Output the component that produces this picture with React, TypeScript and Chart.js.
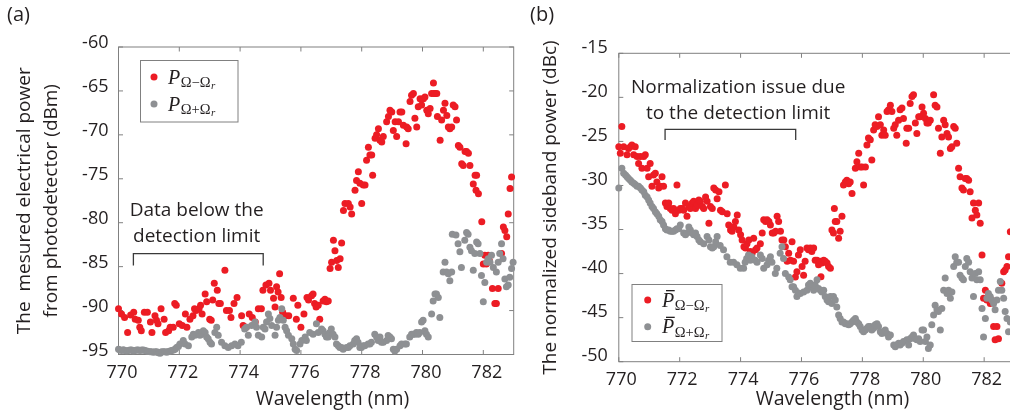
import React, { useEffect, useRef } from "react";
import { Chart, registerables } from "chart.js";

Chart.register(...registerables);

const SANS = '"Open Sans", "Noto Sans", "DejaVu Sans", sans-serif';
const SERIF = '"Liberation Serif", "DejaVu Serif", serif';
const TEXT = "#231f20";
const AXIS = "#808080";
const RED = "#ec1c24";
const GRAY = "#8e9093";

const xTicks = [770, 772, 774, 776, 778, 780, 782];
const yTicksA = [-95, -90, -85, -80, -75, -70, -65, -60];
const yTicksB = [-50, -45, -40, -35, -30, -25, -20, -15];
const xRange = [770, 783];
const yRangeA = [-95, -60];
const yRangeB = [-50, -15];

const yTitleA = ["The  mesured electrical power", "from photodetector (dBm)"];
const yTitleB = "The normalized sideband power (dBc)";
const xTitle = "Wavelength (nm)";
const noteA = ["Data below the", "detection limit"];
const noteB = ["Normalization issue due", "to the detection limit"];

type Pt = [number, number];

// (a) P_{Ω-Ωr} : [wavelength nm, power dBm]
const redA: Pt[] = [
  [770.0, -89.8], [770.1, -90.4], [770.2, -90.8], [770.3, -92.5], [770.4, -90.5], [770.5, -90.2], [770.55, -91.0],
  [770.65, -91.1], [770.7, -91.9], [770.75, -92.3], [770.85, -90.2], [770.95, -90.2], [771.05, -91.3], [771.1, -92.5],
  [771.2, -90.6], [771.25, -91.1], [771.3, -91.5], [771.4, -89.8], [771.5, -91.0], [771.55, -92.5], [771.65, -92.3],
  [771.7, -91.9], [771.8, -91.9], [771.85, -89.2], [771.9, -89.4], [772.0, -91.5], [772.1, -91.7], [772.2, -90.4],
  [772.25, -91.9], [772.35, -91.0], [772.45, -90.6], [772.5, -89.8], [772.55, -90.0], [772.65, -89.8], [772.7, -89.4],
  [772.75, -90.4], [772.85, -88.1], [772.9, -89.0], [773.0, -91.0], [773.05, -91.1], [773.1, -88.8], [773.15, -86.9],
  [773.25, -87.7], [773.3, -89.2], [773.35, -89.2], [773.5, -85.4], [773.55, -90.0], [773.65, -90.0], [773.7, -90.8],
  [773.8, -89.2], [773.9, -88.5], [774.05, -90.6], [774.1, -91.7], [774.2, -91.9], [774.3, -90.4], [774.4, -90.8],
  [774.5, -91.3], [774.6, -89.8], [774.7, -89.8], [774.75, -87.7], [774.85, -87.1], [774.95, -86.9], [775.0, -87.7],
  [775.1, -88.6], [775.15, -89.6], [775.2, -87.3], [775.25, -87.9], [775.3, -85.8], [775.35, -88.5], [775.4, -90.2],
  [775.5, -90.6], [775.6, -90.6], [775.75, -88.6], [775.85, -91.0], [775.9, -89.4], [776.0, -91.9], [776.1, -90.4],
  [776.2, -88.5], [776.25, -88.8], [776.35, -88.3], [776.4, -88.1], [776.45, -89.2], [776.5, -89.6], [776.57, -89.4],
  [776.62, -91.0], [776.73, -88.9], [776.79, -88.7], [776.84, -89.0], [776.9, -88.9], [776.96, -85.2], [777.01, -84.5],
  [777.07, -82.0], [777.12, -83.2], [777.18, -84.3], [777.23, -85.1], [777.29, -84.1], [777.34, -82.3], [777.4, -78.6],
  [777.45, -77.8], [777.56, -77.8], [777.62, -78.2], [777.67, -79.0], [777.78, -76.3], [777.83, -75.2], [777.89, -74.2],
  [777.94, -75.5], [778.0, -77.8], [778.05, -75.7], [778.11, -75.7], [778.16, -72.9], [778.22, -71.4], [778.27, -72.3],
  [778.33, -72.3], [778.36, -74.6], [778.44, -70.4], [778.49, -70.0], [778.55, -69.3], [778.6, -70.6], [778.66, -70.8],
  [778.71, -70.2], [778.82, -68.5], [778.88, -67.9], [778.93, -67.2], [778.99, -67.4], [779.04, -69.5], [779.1, -68.5],
  [779.15, -70.2], [779.21, -68.5], [779.26, -67.4], [779.32, -67.4], [779.37, -68.9], [779.46, -71.0], [779.48, -69.1],
  [779.53, -69.3], [779.59, -66.2], [779.64, -65.5], [779.7, -65.3], [779.75, -68.1], [779.81, -69.1], [779.86, -66.8],
  [779.92, -65.9], [779.97, -66.6], [780.03, -65.9], [780.08, -65.7], [780.14, -67.2], [780.19, -67.6], [780.25, -67.0],
  [780.3, -65.3], [780.36, -64.1], [780.38, -65.3], [780.41, -65.3], [780.47, -65.3], [780.49, -67.9], [780.58, -70.6],
  [780.63, -68.3], [780.69, -67.2], [780.74, -66.4], [780.8, -67.8], [780.85, -69.1], [780.9, -69.3], [780.96, -69.1],
  [781.01, -66.6], [781.07, -66.8], [781.12, -68.3], [781.18, -71.2], [781.23, -71.4], [781.29, -73.3], [781.34, -73.5],
  [781.4, -71.9], [781.45, -71.9], [781.51, -72.1], [781.56, -73.5], [781.67, -75.6], [781.73, -74.6], [781.76, -76.3],
  [781.78, -74.6], [781.84, -76.7], [781.95, -79.9], [782.0, -84.7], [782.05, -83.7], [782.1, -84.7], [782.16, -83.7],
  [782.2, -84.3], [782.3, -87.5], [782.38, -89.2], [782.43, -89.2], [782.49, -87.5], [782.6, -83.5], [782.66, -80.5],
  [782.71, -80.9], [782.77, -81.6], [782.82, -79.0], [782.88, -76.1], [782.93, -74.8],
];

// (a) P_{Ω+Ωr}
const grayA: Pt[] = [
  [770.0, -94.4], [770.05, -94.5], [770.1, -94.55], [770.16, -94.45], [770.21, -94.55], [770.27, -94.6], [770.32, -94.55],
  [770.38, -94.5], [770.43, -94.5], [770.49, -94.6], [770.54, -94.55], [770.6, -94.5], [770.65, -94.5], [770.71, -94.55],
  [770.76, -94.5], [770.82, -94.5], [770.87, -94.55], [770.93, -94.6], [770.98, -94.65], [771.04, -94.7], [771.09, -94.7],
  [771.15, -94.75], [771.2, -94.7], [771.26, -94.7], [771.31, -94.8], [771.37, -94.85], [771.42, -94.7], [771.48, -94.7],
  [771.53, -94.7], [771.59, -94.75], [771.64, -94.65], [771.7, -94.6], [771.75, -94.55], [771.81, -94.5], [771.86, -94.4],
  [771.91, -94.2], [771.97, -94.1], [772.02, -93.8], [772.13, -93.4], [772.19, -93.8], [772.3, -94.0], [772.41, -93.0],
  [772.46, -92.7], [772.52, -92.8], [772.63, -92.5], [772.68, -92.8], [772.74, -92.7], [772.79, -92.3], [772.85, -92.5],
  [772.9, -93.0], [772.95, -93.2], [773.01, -93.6], [773.06, -93.8], [773.17, -92.5], [773.23, -91.9], [773.28, -92.8],
  [773.39, -93.6], [773.5, -94.0], [773.61, -94.2], [773.72, -94.0], [773.83, -93.8], [773.93, -94.0], [774.04, -93.6],
  [774.15, -92.1], [774.21, -91.9], [774.27, -92.8], [774.38, -91.7], [774.49, -91.3], [774.54, -91.9], [774.6, -92.8],
  [774.71, -93.0], [774.76, -91.9], [774.82, -92.1], [774.87, -91.3], [774.93, -90.4], [774.98, -90.9], [775.04, -91.7],
  [775.15, -92.8], [775.2, -91.9], [775.26, -91.1], [775.31, -90.8], [775.37, -89.8], [775.42, -91.1], [775.48, -91.9],
  [775.53, -92.3], [775.59, -92.8], [775.7, -93.2], [775.75, -93.8], [775.81, -94.4], [775.86, -94.55], [775.97, -93.8],
  [776.03, -93.4], [776.14, -93.0], [776.18, -93.4], [776.29, -92.5], [776.4, -92.7], [776.51, -91.5], [776.57, -92.5],
  [776.68, -92.1], [776.73, -92.3], [776.79, -92.7], [776.84, -93.0], [776.9, -93.0], [776.95, -92.5], [777.0, -92.1],
  [777.06, -92.7], [777.12, -93.0], [777.17, -93.8], [777.23, -94.0], [777.28, -94.2], [777.34, -94.2], [777.39, -94.4],
  [777.5, -94.2], [777.56, -94.2], [777.61, -94.0], [777.72, -93.8], [777.77, -93.4], [777.83, -93.2], [777.88, -93.6],
  [777.94, -94.2], [777.99, -94.2], [778.05, -94.0], [778.1, -94.0], [778.21, -93.8], [778.27, -93.8], [778.32, -93.6],
  [778.43, -92.7], [778.49, -93.0], [778.54, -93.4], [778.6, -93.0], [778.65, -93.6], [778.71, -93.6], [778.82, -93.4],
  [778.87, -92.85], [778.93, -93.0], [778.98, -93.2], [779.04, -94.4], [779.09, -94.6], [779.15, -94.4], [779.26, -94.0],
  [779.31, -93.8], [779.42, -93.8], [779.47, -93.8], [779.58, -93.0], [779.64, -92.7], [779.69, -92.7], [779.75, -92.7],
  [779.8, -92.5], [779.86, -92.7], [779.91, -92.5], [779.97, -91.3], [780.02, -91.1], [780.08, -92.3], [780.13, -92.7],
  [780.19, -93.0], [780.3, -90.4], [780.35, -88.9], [780.41, -88.1], [780.46, -88.1], [780.52, -88.5], [780.57, -90.8],
  [780.68, -85.6], [780.74, -84.5], [780.79, -85.6], [780.85, -85.8], [780.9, -86.6], [780.96, -85.6], [780.98, -81.3],
  [781.1, -81.4], [781.17, -82.4], [781.23, -83.3], [781.28, -85.1], [781.39, -82.0], [781.45, -81.1], [781.5, -81.3],
  [781.56, -82.8], [781.61, -83.2], [781.67, -85.4], [781.72, -83.5], [781.78, -82.2], [781.83, -82.4], [781.89, -83.5],
  [781.94, -86.0], [782.0, -89.0], [782.05, -86.8], [782.11, -84.5], [782.16, -84.1], [782.22, -84.5], [782.27, -83.7],
  [782.33, -85.1], [782.43, -85.6], [782.49, -84.5], [782.54, -83.5], [782.6, -82.4], [782.65, -84.1], [782.71, -86.4],
  [782.76, -87.3], [782.82, -87.1], [782.87, -86.2], [782.93, -85.2], [782.98, -84.5],
];

// (b) normalized P̄_{Ω-Ωr} : [wavelength nm, dBc]
const redB: Pt[] = [
  [770.0, -25.6], [770.05, -26.35], [770.1, -23.3], [770.16, -25.6], [770.27, -26.5], [770.32, -25.8], [770.38, -25.6],
  [770.43, -25.4], [770.49, -26.5], [770.54, -25.6], [770.6, -26.7], [770.65, -27.5], [770.71, -26.7], [770.76, -28.05],
  [770.82, -26.7], [770.87, -26.5], [770.93, -28.05], [770.98, -29.0], [771.03, -27.5], [771.09, -30.1], [771.14, -28.8],
  [771.2, -28.6], [771.25, -29.6], [771.31, -30.3], [771.36, -30.1], [771.42, -29.0], [771.47, -30.1], [771.53, -32.0],
  [771.58, -32.4], [771.64, -32.0], [771.69, -32.6], [771.75, -32.8], [771.8, -32.6], [771.86, -33.2], [771.91, -29.95],
  [771.97, -32.8], [772.02, -32.6], [772.08, -32.6], [772.13, -32.8], [772.19, -32.0], [772.24, -33.5], [772.3, -32.4],
  [772.35, -32.6], [772.41, -32.0], [772.46, -31.8], [772.52, -32.6], [772.57, -32.2], [772.63, -31.65], [772.68, -31.8],
  [772.74, -32.4], [772.79, -32.6], [772.85, -31.3], [772.9, -31.8], [772.96, -34.3], [773.01, -32.4], [773.07, -32.6],
  [773.12, -30.3], [773.18, -30.5], [773.23, -31.5], [773.29, -30.7], [773.34, -32.8], [773.4, -32.97], [773.5, -29.95],
  [773.56, -33.2], [773.61, -34.5], [773.67, -35.05], [773.72, -35.2], [773.78, -34.7], [773.83, -34.1], [773.89, -33.35],
  [773.94, -35.05], [774.0, -35.6], [774.05, -36.2], [774.11, -36.95], [774.16, -37.1], [774.21, -36.6], [774.27, -36.2],
  [774.32, -37.5], [774.38, -37.7], [774.43, -36.0], [774.49, -37.3], [774.54, -37.1], [774.65, -36.6], [774.71, -35.4],
  [774.76, -33.9], [774.82, -34.1], [774.87, -33.9], [774.93, -34.1], [774.98, -34.5], [775.04, -35.4], [775.09, -35.4],
  [775.15, -35.2], [775.2, -33.5], [775.25, -34.1], [775.31, -35.2], [775.36, -36.2], [775.42, -36.2], [775.47, -36.95],
  [775.53, -38.6], [775.58, -37.7], [775.64, -38.5], [775.69, -36.4], [775.74, -38.6], [775.8, -40.4], [775.85, -39.8],
  [775.9, -37.9], [775.96, -37.3], [776.02, -39.2], [776.07, -40.2], [776.12, -38.6], [776.18, -37.1], [776.23, -37.3],
  [776.29, -37.1], [776.34, -37.5], [776.4, -37.1], [776.45, -38.5], [776.51, -38.5], [776.56, -39.0], [776.62, -38.6],
  [776.64, -40.35], [776.67, -38.8], [776.73, -38.5], [776.78, -38.6], [776.84, -38.8], [776.89, -39.2], [776.95, -39.4],
  [777.0, -35.05], [777.05, -35.4], [777.08, -32.6], [777.11, -34.1], [777.16, -34.1], [777.22, -36.0], [777.27, -35.2],
  [777.33, -33.5], [777.38, -29.95], [777.44, -29.6], [777.49, -29.4], [777.55, -29.8], [777.6, -29.6], [777.66, -30.9],
  [777.77, -28.05], [777.82, -27.3], [777.88, -26.35], [777.93, -27.9], [777.99, -27.9], [778.04, -29.95], [778.1, -27.9],
  [778.15, -25.4], [778.2, -24.6], [778.26, -24.8], [778.31, -27.1], [778.37, -23.7], [778.42, -23.1], [778.48, -23.3],
  [778.53, -22.2], [778.59, -23.1], [778.64, -24.3], [778.7, -23.7], [778.75, -24.3], [778.81, -21.6], [778.86, -21.4],
  [778.92, -20.9], [778.97, -21.6], [779.03, -23.5], [779.08, -23.1], [779.13, -24.3], [779.19, -22.6], [779.24, -21.4],
  [779.3, -21.2], [779.35, -22.4], [779.44, -25.2], [779.46, -23.5], [779.52, -23.5], [779.57, -20.7], [779.63, -19.9],
  [779.68, -19.7], [779.74, -22.9], [779.79, -24.1], [779.85, -22.2], [779.9, -22.2], [779.96, -21.1], [780.01, -21.8],
  [780.07, -22.4], [780.12, -22.9], [780.17, -22.9], [780.23, -22.6], [780.34, -19.7], [780.39, -20.9], [780.45, -21.1],
  [780.5, -23.5], [780.56, -26.35], [780.61, -24.5], [780.67, -22.6], [780.72, -23.1], [780.78, -24.1], [780.83, -24.5],
  [780.89, -25.8], [780.94, -25.6], [781.0, -23.3], [781.05, -23.5], [781.1, -25.2], [781.16, -28.05], [781.21, -29.0],
  [781.27, -30.3], [781.32, -30.5], [781.38, -29.2], [781.43, -29.2], [781.49, -29.4], [781.54, -30.7], [781.6, -33.7],
  [781.65, -32.0], [781.71, -32.8], [781.76, -33.35], [781.82, -32.0], [781.87, -34.3], [781.93, -37.9], [781.98, -42.8],
  [782.04, -41.9], [782.09, -43.0], [782.14, -42.6], [782.2, -43.4], [782.25, -43.0], [782.31, -46.0], [782.36, -47.5],
  [782.42, -46.0], [782.47, -47.4], [782.58, -41.1], [782.64, -39.8], [782.69, -39.6], [782.75, -39.2], [782.8, -38.1],
  [782.86, -35.25],
];

// (b) normalized P̄_{Ω+Ωr}
const grayB: Pt[] = [
  [770.0, -30.3], [770.1, -28.05], [770.16, -28.6], [770.22, -28.8], [770.27, -29.0], [770.32, -29.2], [770.38, -29.4],
  [770.43, -29.6], [770.49, -29.75], [770.54, -29.9], [770.6, -30.1], [770.65, -30.1], [770.71, -30.3], [770.76, -30.5],
  [770.82, -30.7], [770.87, -31.1], [770.93, -31.3], [770.98, -31.65], [771.03, -32.0], [771.09, -32.4], [771.14, -32.6],
  [771.2, -32.97], [771.25, -33.2], [771.31, -33.5], [771.36, -33.9], [771.42, -34.1], [771.47, -34.5], [771.53, -34.9],
  [771.58, -35.05], [771.64, -35.05], [771.69, -35.2], [771.75, -35.2], [771.8, -35.2], [771.86, -35.05], [771.91, -34.9],
  [771.97, -34.9], [772.02, -34.5], [772.13, -35.4], [772.19, -35.6], [772.24, -35.4], [772.3, -34.7], [772.35, -35.05],
  [772.41, -35.4], [772.46, -35.6], [772.52, -35.4], [772.57, -35.8], [772.63, -36.2], [772.68, -36.4], [772.79, -36.6],
  [772.9, -35.8], [772.96, -36.2], [773.01, -36.95], [773.07, -37.1], [773.12, -36.95], [773.18, -36.4], [773.23, -35.8],
  [773.33, -36.8], [773.44, -37.3], [773.55, -38.1], [773.66, -38.7], [773.77, -38.7], [773.88, -39.0], [773.99, -39.4],
  [774.1, -39.4], [774.15, -38.7], [774.2, -38.3], [774.26, -37.9], [774.32, -38.5], [774.37, -38.1], [774.48, -38.5],
  [774.54, -38.7], [774.65, -37.9], [774.71, -38.3], [774.76, -39.4], [774.87, -39.0], [774.92, -38.5], [774.98, -38.1],
  [775.03, -38.7], [775.14, -40.0], [775.19, -39.4], [775.3, -37.7], [775.36, -36.95], [775.41, -38.3], [775.47, -40.0],
  [775.58, -40.4], [775.63, -40.7], [775.69, -41.5], [775.74, -41.5], [775.8, -41.9], [775.85, -42.6], [775.9, -42.2],
  [775.96, -42.25], [776.07, -42.1], [776.18, -41.9], [776.23, -41.3], [776.29, -41.1], [776.34, -41.5], [776.4, -41.9],
  [776.45, -41.3], [776.51, -40.7], [776.56, -41.7], [776.62, -41.9], [776.67, -42.1], [776.73, -41.9], [776.78, -42.6],
  [776.84, -43.0], [776.89, -43.2], [776.95, -42.6], [777.0, -43.4], [777.05, -42.6], [777.11, -43.0], [777.16, -43.8],
  [777.22, -44.7], [777.27, -45.1], [777.33, -45.5], [777.38, -45.5], [777.44, -45.7], [777.49, -45.7], [777.55, -45.8],
  [777.6, -45.7], [777.66, -45.5], [777.71, -45.3], [777.77, -45.1], [777.82, -45.5], [777.88, -45.7], [777.93, -46.0],
  [777.99, -46.4], [778.04, -46.6], [778.1, -46.4], [778.15, -46.2], [778.2, -46.0], [778.26, -46.0], [778.31, -46.4],
  [778.37, -46.2], [778.42, -45.8], [778.48, -45.7], [778.53, -46.0], [778.59, -46.6], [778.64, -46.8], [778.7, -46.6],
  [778.75, -46.4], [778.81, -46.8], [778.86, -47.2], [778.92, -46.98], [779.03, -48.1], [779.08, -48.3], [779.13, -48.1],
  [779.19, -47.9], [779.24, -48.1], [779.3, -47.9], [779.35, -47.7], [779.46, -47.5], [779.52, -48.1], [779.57, -47.4],
  [779.63, -47.2], [779.68, -46.98], [779.74, -47.4], [779.79, -47.5], [779.85, -47.4], [779.9, -47.7], [779.96, -46.4],
  [780.01, -46.4], [780.07, -47.7], [780.12, -47.2], [780.17, -48.5], [780.23, -48.1], [780.28, -45.8], [780.34, -44.7],
  [780.39, -43.6], [780.45, -44.1], [780.5, -44.3], [780.56, -46.4], [780.61, -43.95], [780.67, -41.9], [780.72, -40.5],
  [780.78, -42.25], [780.83, -41.9], [780.89, -42.8], [780.94, -42.1], [781.0, -39.2], [781.05, -38.1], [781.1, -38.7],
  [781.16, -38.7], [781.21, -40.2], [781.27, -40.5], [781.32, -40.7], [781.38, -39.2], [781.43, -38.3], [781.49, -38.7],
  [781.54, -39.8], [781.6, -40.5], [781.65, -42.6], [781.71, -40.0], [781.76, -40.7], [781.82, -39.8], [781.87, -40.7],
  [781.93, -43.95], [781.98, -47.2], [782.04, -45.1], [782.09, -42.8], [782.14, -42.25], [782.2, -42.6], [782.25, -43.0],
  [782.31, -43.4], [782.36, -44.1], [782.42, -43.0], [782.47, -41.9], [782.53, -40.9], [782.58, -41.9], [782.64, -42.8],
  [782.69, -44.3], [782.75, -45.1], [782.8, -46.6], [782.86, -45.5],
];

type PanelCfg = {
  left: number;
  width: number;
  height: number;
  area: { left: number; right: number; top: number; bottom: number };
  yRange: number[];
  yTicks: number[];
  red: Pt[];
  gray: Pt[];
  yTitle: string | string[];
  yTitleLH: number;
  yTitlePad: number;
  yLabelPad: number;
  yLabelOffset: number;
  xLabelOffset: number;
  tag: string;
  tagX: number;
  xTitleX: number;
  note: string[];
  noteX: number;
  noteY: number[];
  bracketX: number[];
  bracketY: number[];
  legend: { box: number[]; dotX: number; rows: number[]; textX: number; bar: boolean };
};

const panelA: PanelCfg = {
  left: 0,
  width: 525,
  height: 416,
  area: { left: 118.5, right: 513.7, top: 47, bottom: 354.5 },
  yRange: yRangeA,
  yTicks: yTicksA,
  red: redA,
  gray: grayA,
  yTitle: yTitleA,
  yTitleLH: 27 / 19,
  yTitlePad: 11.5,
  yLabelPad: 10,
  yLabelOffset: -4,
  xLabelOffset: 3.5,
  tag: "(a)",
  tagX: 7,
  xTitleX: 332.5,
  note: noteA,
  noteX: 772.57,
  noteY: [-79.27, -82.2],
  bracketX: [770.49, 774.76],
  bracketY: [-83.52, -84.86],
  legend: { box: [140.5, 60.5, 97.5, 61.5], dotX: 154, rows: [77, 104], textX: 168, bar: false },
};

const panelB: PanelCfg = {
  left: 525,
  width: 495,
  height: 416,
  area: { left: 93.8, right: 489.6, top: 53.3, bottom: 361.7 },
  yRange: yRangeB,
  yTicks: yTicksB,
  red: redB,
  gray: grayB,
  yTitle: yTitleB,
  yTitleLH: 1.2,
  yTitlePad: 14.5,
  yLabelPad: 11,
  yLabelOffset: -5.5,
  xLabelOffset: 2.5,
  tag: "(b)",
  tagX: 530,
  xTitleX: 832.5,
  note: noteB,
  noteX: 773.92,
  noteY: [-19.54, -22.46],
  bracketX: [771.52, 775.81],
  bracketY: [-23.63, -24.84],
  legend: { box: [632, 284.5, 90, 57], dotX: 647.7, rows: [300, 326.7], textX: 662, bar: true },
};

function drawSymbol(ctx: CanvasRenderingContext2D, x: number, base: number, sign: string, bar: boolean) {
  ctx.fillStyle = TEXT;
  ctx.textAlign = "left";
  ctx.textBaseline = "alphabetic";
  ctx.font = `italic 20px ${SERIF}`;
  ctx.fillText("P", x, base);
  const pw = ctx.measureText("P").width;
  if (bar) ctx.fillRect(x + 4, base - 16.5, pw - 3.5, 1.3);
  ctx.font = `14.5px ${SERIF}`;
  const sub = "Ω" + sign + "Ω";
  ctx.fillText(sub, x + pw + 0.5, base + 3.5);
  const sw = ctx.measureText(sub).width;
  ctx.font = `italic 11px ${SERIF}`;
  ctx.fillText("r", x + pw + 1 + sw, base + 5.5);
}

function Panel({ cfg }: { cfg: PanelCfg }) {
  const ref = useRef<HTMLCanvasElement | null>(null);
  useEffect(() => {
    const canvas = ref.current;
    if (!canvas) return;
    const off = cfg.left;
    const framePlugin = {
      id: "frame",
      beforeDatasetsDraw(chart: any) {
        const { ctx, chartArea: a, scales } = chart;
        ctx.save();
        ctx.strokeStyle = AXIS;
        ctx.lineWidth = 1;
        ctx.strokeRect(a.left, a.top, a.right - a.left, a.bottom - a.top);
        const tl = 4.5;
        ctx.beginPath();
        xTicks.forEach((v) => {
          const x = scales.x.getPixelForValue(v);
          ctx.moveTo(x, a.bottom);
          ctx.lineTo(x, a.bottom - tl);
          ctx.moveTo(x, a.top);
          ctx.lineTo(x, a.top + tl);
        });
        cfg.yTicks.forEach((v) => {
          const y = scales.y.getPixelForValue(v);
          ctx.moveTo(a.left, y);
          ctx.lineTo(a.left + tl, y);
          ctx.moveTo(a.right, y);
          ctx.lineTo(a.right - tl, y);
        });
        ctx.stroke();
        ctx.restore();
      },
    };
    const overlayPlugin = {
      id: "overlay",
      afterDraw(chart: any) {
        const { ctx, scales } = chart;
        const sx = scales.x;
        const sy = scales.y;
        ctx.save();
        ctx.fillStyle = TEXT;
        ctx.font = `20px ${SANS}`;
        ctx.textAlign = "left";
        ctx.textBaseline = "alphabetic";
        ctx.fillText(cfg.tag, cfg.tagX - off, 21);
        ctx.font = `19.5px ${SANS}`;
        ctx.textAlign = "center";
        ctx.fillText(xTitle, cfg.xTitleX - off, 405);
        ctx.font = `19px ${SANS}`;
        cfg.note.forEach((line, i) => {
          ctx.fillText(line, sx.getPixelForValue(cfg.noteX), sy.getPixelForValue(cfg.noteY[i]));
        });
        const bx0 = sx.getPixelForValue(cfg.bracketX[0]);
        const bx1 = sx.getPixelForValue(cfg.bracketX[1]);
        const by0 = sy.getPixelForValue(cfg.bracketY[0]);
        const by1 = sy.getPixelForValue(cfg.bracketY[1]);
        ctx.strokeStyle = "#3a3a3a";
        ctx.lineWidth = 1.3;
        ctx.beginPath();
        ctx.moveTo(bx0, by1);
        ctx.lineTo(bx0, by0);
        ctx.lineTo(bx1, by0);
        ctx.lineTo(bx1, by1);
        ctx.stroke();
        const lg = cfg.legend;
        ctx.fillStyle = "#ffffff";
        ctx.fillRect(lg.box[0] - off, lg.box[1], lg.box[2], lg.box[3]);
        ctx.strokeStyle = AXIS;
        ctx.lineWidth = 1;
        ctx.strokeRect(lg.box[0] - off, lg.box[1], lg.box[2], lg.box[3]);
        const colors = [RED, GRAY];
        const signs = ["−", "+"];
        lg.rows.forEach((ry, i) => {
          ctx.fillStyle = colors[i];
          ctx.beginPath();
          ctx.arc(lg.dotX - off, ry, 3.5, 0, Math.PI * 2);
          ctx.fill();
          drawSymbol(ctx, lg.textX - off, ry + 6.5, signs[i], lg.bar);
        });
        ctx.restore();
      },
    };
    const H = cfg.height;
    const W = cfg.width;
    const a = cfg.area;
    const chart = new Chart(canvas, {
      type: "scatter",
      data: {
        datasets: [
          {
            data: cfg.gray.map(([x, y]) => ({ x, y })),
            backgroundColor: GRAY,
            borderWidth: 0,
            pointRadius: 3.5,
            pointHoverRadius: 3.5,
            clip: false as any,
          },
          {
            data: cfg.red.map(([x, y]) => ({ x, y })),
            backgroundColor: RED,
            borderWidth: 0,
            pointRadius: 3.5,
            pointHoverRadius: 3.5,
            clip: false as any,
          },
        ],
      },
      options: {
        responsive: false,
        animation: false,
        devicePixelRatio: 1,
        events: [],
        layout: { padding: { left: 0, right: W - a.right, top: a.top, bottom: 0 } },
        plugins: { legend: { display: false }, tooltip: { enabled: false }, title: { display: false } },
        scales: {
          x: {
            type: "linear",
            position: "bottom",
            min: xRange[0],
            max: xRange[1],
            afterFit: (s: any) => {
              s.height = H - a.bottom;
            },
            afterBuildTicks: (s: any) => {
              s.ticks = xTicks.map((v) => ({ value: v }));
            },
            grid: { display: false, drawTicks: false },
            border: { display: false },
            ticks: {
              autoSkip: false,
              maxRotation: 0,
              padding: 7.5,
              labelOffset: cfg.xLabelOffset,
              color: TEXT,
              font: { family: SANS, size: 18 },
            },
          },
          y: {
            type: "linear",
            position: "left",
            min: cfg.yRange[0],
            max: cfg.yRange[1],
            afterFit: (s: any) => {
              s.width = a.left;
            },
            afterBuildTicks: (s: any) => {
              s.ticks = cfg.yTicks.map((v) => ({ value: v }));
            },
            grid: { display: false, drawTicks: false },
            border: { display: false },
            ticks: {
              autoSkip: false,
              padding: cfg.yLabelPad,
              labelOffset: cfg.yLabelOffset,
              color: TEXT,
              font: { family: SANS, size: 18 },
            },
            title: {
              display: true,
              text: cfg.yTitle,
              color: TEXT,
              font: { family: SANS, size: 19, lineHeight: cfg.yTitleLH },
              padding: { top: cfg.yTitlePad, bottom: 0 },
            },
          },
        },
      },
      plugins: [framePlugin, overlayPlugin],
    });
    return () => chart.destroy();
  }, [cfg]);
  return (
    <canvas
      ref={ref}
      width={cfg.width}
      height={cfg.height}
      style={{ position: "absolute", left: cfg.left, top: 0, width: cfg.width, height: cfg.height }}
    />
  );
}

export default function App() {
  return (
    <div
      style={{
        position: "absolute",
        left: 0,
        top: 0,
        width: 1010,
        height: 416,
        overflow: "hidden",
        background: "#ffffff",
      }}
    >
      <Panel cfg={panelA} />
      <Panel cfg={panelB} />
    </div>
  );
}
